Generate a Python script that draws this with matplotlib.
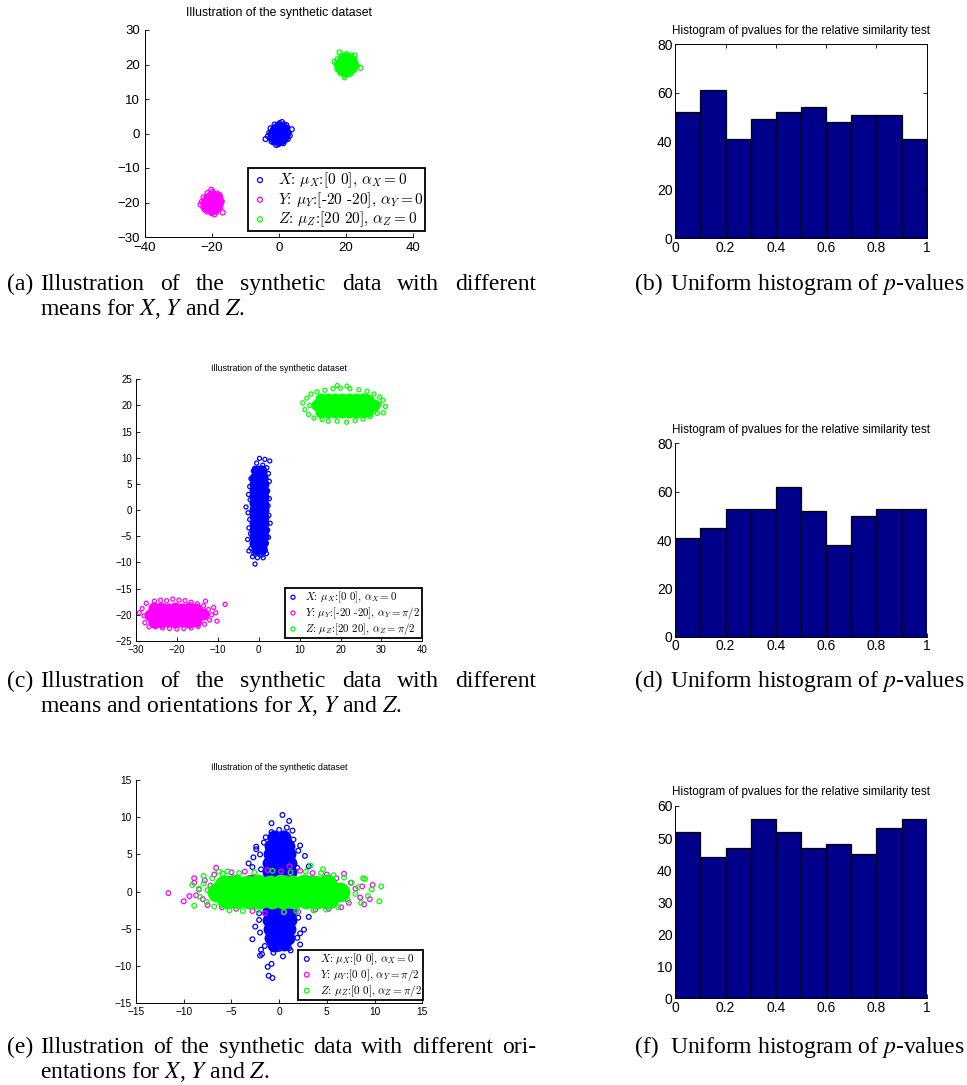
import numpy as np
import matplotlib
matplotlib.use('Agg')
import matplotlib.pyplot as plt
from matplotlib.font_manager import FontProperties
from matplotlib.ticker import FormatStrFormatter

# ---------------- data ----------------
BIN_EDGES = [0.0, 0.1, 0.2, 0.3, 0.4, 0.5, 0.6, 0.7, 0.8, 0.9, 1.0]
COUNTS_B = [52, 61, 41, 49, 52, 54, 48, 51, 51, 41]
COUNTS_D = [41, 45, 53, 53, 62, 52, 38, 50, 53, 53]
COUNTS_F = [52, 44, 47, 56, 52, 47, 48, 45, 53, 56]

# (a) equal covariance, different means
A_X_CORE = [(0.0, 0.0), (1.5, 0.1), (1.1, 1.1), (0.1, 1.5), (-1.0, 1.1), (-1.5, 0.0),
            (-1.1, -1.0), (0.0, -1.5), (1.0, -1.1)]
A_X_EDGE = [(2.9, 0.3), (2.5, 1.6), (1.5, 2.6), (0.2, 3.0), (-1.3, 2.6), (-2.5, 1.5), (-2.9, 0.2),
            (-2.6, -1.3), (-1.6, -2.6), (-0.2, -3.1), (1.3, -2.8), (2.6, -1.6), (3.2, -0.6),
            (-3.3, -0.8), (0.9, 3.3), (-4.0, -1.6), (3.8, 1.2), (-0.8, -3.3), (2.2, 2.4), (-2.2, -2.3)]
A_Y_CORE = [(-20.0, -20.0), (-18.5, -19.9), (-18.9, -18.9), (-19.9, -18.5), (-21.0, -18.9),
            (-21.5, -20.0), (-21.1, -21.0), (-20.0, -21.5), (-19.0, -21.1)]
A_Y_EDGE = [(-17.1, -19.7), (-17.5, -18.4), (-18.5, -17.4), (-19.8, -16.9), (-21.3, -17.3),
            (-22.5, -18.5), (-23.0, -19.8), (-22.6, -21.3), (-21.5, -22.6), (-20.1, -23.1),
            (-18.7, -22.7), (-17.5, -21.6), (-16.8, -22.9), (-20.2, -16.3), (-23.4, -20.6),
            (-19.2, -23.4), (-17.8, -17.8), (-22.2, -22.0)]
A_Z_CORE = [(20.0, 20.0), (21.5, 20.1), (21.1, 21.1), (20.1, 21.5), (19.0, 21.1), (18.5, 20.0),
            (18.9, 19.0), (20.0, 18.5), (21.0, 18.9)]
A_Z_EDGE = [(22.9, 20.3), (22.5, 21.6), (21.5, 22.6), (20.2, 23.0), (18.8, 22.6), (17.5, 21.5),
            (17.1, 20.1), (17.4, 18.7), (18.4, 17.5), (19.8, 17.0), (21.3, 17.3), (22.4, 18.4),
            (23.2, 19.5), (24.3, 19.0), (18.1, 23.5), (19.6, 16.3), (16.6, 20.8), (22.6, 22.6)]

# (c) different means and orientations
C_X_CORE = [(-0.5, -7.5), (0.5, -7.5), (-0.9, -6.3), (0.9, -6.2), (-1.0, -5.0), (1.0, -5.0),
            (-1.0, -3.7), (1.0, -3.8), (-1.0, -2.5), (1.0, -2.5), (-1.0, -1.2), (1.0, -1.3),
            (-1.0, 0.0), (1.0, 0.0), (-1.0, 1.3), (1.0, 1.2), (-1.0, 2.5), (1.0, 2.5),
            (-1.0, 3.8), (1.0, 3.7), (-1.0, 5.0), (1.0, 5.0), (-0.9, 6.2), (0.9, 6.3),
            (-0.5, 7.5), (0.5, 7.5)]
C_X_EDGE = [(0.2, 9.9), (1.5, 9.7), (2.7, 9.4), (-0.5, 9.0), (1.0, 8.6), (2.0, 8.1), (-1.0, 8.0),
            (-1.3, 7.5), (2.4, 7.0), (-1.9, 6.0), (1.8, 6.0), (2.6, 5.5), (-2.2, 4.5), (2.2, 3.7),
            (-2.5, 3.0), (-2.1, 2.0), (2.6, 2.2), (-3.1, 0.6), (2.3, 0.8), (-2.6, -0.5),
            (2.5, -1.0), (-2.2, -1.8), (2.8, -2.5), (-2.4, -3.4), (2.2, -3.8), (-2.0, -4.5),
            (2.4, -5.2), (-2.7, -5.6), (1.9, -6.3), (-1.9, -7.3), (-2.4, -7.8), (1.6, -7.6),
            (-1.2, -8.3), (0.7, -8.6), (1.9, -8.3), (-0.3, -9.1), (1.1, -9.1), (-0.9, -10.3),
            (-1.5, -8.9), (1.2, 8.0)]
C_Y_CORE = [(-26.5, -20.0), (-24.9, -20.1), (-23.3, -19.9), (-21.7, -20.0), (-20.1, -20.1),
            (-18.5, -19.9), (-16.9, -20.0), (-15.3, -20.1), (-13.7, -19.9),
            (-25.5, -21.3), (-23.8, -21.3), (-22.1, -21.2), (-20.4, -21.3), (-18.7, -21.2),
            (-17.0, -21.3), (-15.3, -21.2),
            (-25.6, -18.7), (-23.9, -18.7), (-22.2, -18.8), (-20.5, -18.7), (-18.8, -18.8),
            (-17.1, -18.7), (-15.4, -18.8)]
C_Y_EDGE = [(-8.2, -18.0), (-29.2, -19.6), (-28.5, -18.8), (-27.8, -21.5), (-27.5, -17.8),
            (-26.8, -22.3), (-25.5, -17.4), (-24.0, -17.2), (-22.5, -17.3), (-21.0, -17.0),
            (-19.5, -17.2), (-18.0, -17.3), (-16.5, -17.6), (-15.0, -17.9), (-13.5, -18.3),
            (-12.3, -19.0), (-11.5, -20.0), (-12.0, -21.0), (-10.5, -19.6), (-10.2, -21.2),
            (-13.2, -21.8), (-14.8, -22.2), (-16.5, -22.5), (-18.3, -22.6), (-20.0, -22.7),
            (-21.8, -22.6), (-23.5, -22.5), (-25.2, -22.3), (-28.0, -20.2), (-13.0, -17.4),
            (-11.0, -18.6)]
C_Z_CORE = [(14.2, 20.0), (15.8, 20.1), (17.4, 19.9), (19.0, 20.0), (20.6, 20.1), (22.2, 19.9),
            (23.8, 20.0), (25.4, 20.1), (27.0, 19.9), (28.2, 20.0),
            (15.2, 18.7), (16.9, 18.7), (18.6, 18.8), (20.3, 18.7), (22.0, 18.8), (23.7, 18.7),
            (25.4, 18.8), (26.8, 18.9),
            (15.2, 21.3), (16.9, 21.3), (18.6, 21.2), (20.3, 21.3), (22.0, 21.2), (23.7, 21.3),
            (25.4, 21.2), (26.8, 21.1)]
C_Z_EDGE = [(10.8, 20.5), (11.3, 19.2), (11.8, 21.4), (12.2, 18.3), (12.8, 22.2), (13.5, 17.6),
            (14.3, 22.6), (15.5, 17.3), (16.2, 22.9), (17.0, 17.0), (18.2, 23.2), (19.2, 17.0),
            (20.0, 23.3), (21.5, 16.8), (22.3, 23.2), (23.6, 17.1), (24.5, 23.0), (25.5, 17.4),
            (26.5, 22.7), (27.3, 17.9), (28.2, 22.2), (29.0, 18.5), (29.6, 21.6), (30.4, 21.0),
            (31.0, 19.8), (30.5, 18.6), (12.5, 20.0), (29.5, 20.2), (19.2, 23.8), (21.6, 23.7)]

# (e) same means, different orientations
E_X_CORE = [(-1.1, 2.6), (0.0, 2.7), (1.1, 2.6), (-1.1, 3.8), (0.0, 3.9), (1.1, 3.8),
            (-1.0, 5.0), (0.0, 5.1), (1.0, 5.0), (-0.9, 6.2), (0.1, 6.3), (0.9, 6.2),
            (-0.5, 7.3), (0.5, 7.4),
            (-1.1, 1.3), (0.0, 1.3), (1.1, 1.3), (-1.1, 0.0), (0.0, 0.0), (1.1, 0.0),
            (-1.1, -1.3), (0.0, -1.3), (1.1, -1.3),
            (-1.1, -2.6), (0.0, -2.7), (1.1, -2.6), (-1.1, -3.8), (0.0, -3.9), (1.1, -3.8),
            (-1.0, -5.0), (0.0, -5.1), (1.0, -5.0), (-0.9, -6.2), (0.1, -6.3), (0.9, -6.2),
            (-0.5, -7.2), (0.5, -7.1)]
E_X_EDGE = [(0.35, 10.3), (-0.8, 9.2), (1.05, 9.5), (-2.4, 6.05), (-2.4, 5.7), (-3.2, 3.8),
            (3.1, 3.4), (2.2, 6.2), (1.4, 8.2), (-1.4, 7.3), (2.7, 4.8), (-2.7, 4.6), (-2.8, 3.3),
            (-1.9, 3.0), (1.9, 3.2), (-2.0, 5.0), (2.0, 5.5), (-1.6, 6.6), (1.5, 7.0), (0.0, 8.3),
            (-0.8, 8.0), (0.8, 8.6), (0.5, 7.8), (-0.4, 7.6),
            (-1.2, -10.1), (-1.1, -11.3), (-0.7, -11.6), (-0.8, -9.7), (-2.0, -8.6), (-1.8, -8.4),
            (0.4, -8.7), (-2.8, -6.4), (2.2, -7.1), (2.6, -5.1), (3.1, -3.4), (2.2, -5.6),
            (-1.9, -7.8), (1.05, -7.6), (-0.2, -6.9), (-2.5, -4.7), (-2.1, -2.9), (-2.1, -3.8),
            (2.0, -3.5), (-2.0, -5.5), (1.9, -6.2), (-1.5, -7.3), (1.2, -7.9), (0.0, -7.7),
            (-0.6, -8.2)]
E_Y_CORE = [(-6.0, 0.0), (-4.0, 0.1), (-2.0, -0.1), (0.0, 0.0), (2.0, 0.1), (4.0, -0.1), (6.0, 0.0),
            (-5.0, -0.9), (-3.0, -1.0), (-1.0, -0.9), (1.0, -1.0), (3.0, -0.9), (5.0, -1.0),
            (-5.0, 0.9), (-3.0, 1.0), (-1.0, 0.9), (1.0, 1.0), (3.0, 0.9), (5.0, 1.0)]
E_Y_EDGE = [(-11.6, -0.2), (-10.0, -1.3), (-8.9, 1.8), (-8.9, 1.2), (-8.7, -0.5), (-8.4, 0.3),
            (-7.8, 1.5), (-8.0, -1.0), (-7.5, -1.8), (-6.6, 3.2), (-6.8, 2.3), (-6.0, -2.1),
            (-5.0, 2.6), (-4.5, -2.3), (-3.6, 2.7), (-2.8, -2.6), (-1.2, 2.9), (-1.5, -2.9),
            (0.2, 2.7), (1.1, 3.4), (0.5, -2.8), (2.2, 2.8), (2.0, -2.7), (3.5, 2.5), (3.8, -2.4),
            (5.0, 2.3), (5.2, -2.3), (6.0, 1.8), (6.8, 2.4), (6.5, -2.1), (7.5, 1.2), (7.3, -1.5),
            (8.0, 0.4), (8.5, -0.8), (8.7, 0.7), (8.9, -1.7), (9.5, -1.0), (9.8, 0.9),
            (-7.2, 0.8), (-9.4, -0.6)]
E_Z_CORE = [(-6.5, 0.0), (-5.3, 0.1), (-4.1, -0.1), (-2.9, 0.0), (-1.7, 0.1), (-0.5, -0.1),
            (0.7, 0.0), (1.9, 0.1), (3.1, -0.1), (4.3, 0.0), (5.5, 0.1), (6.4, 0.0),
            (-5.6, -0.95), (-4.4, -1.0), (-3.2, -0.95), (-2.0, -1.0), (-0.8, -0.95), (0.4, -1.0),
            (1.6, -0.95), (2.8, -1.0), (4.0, -0.95), (5.2, -1.0),
            (-5.8, 0.95), (-4.6, 1.0), (-3.4, 0.95), (-2.2, 1.0), (-1.0, 0.95), (0.2, 1.0),
            (1.4, 0.95), (2.6, 1.0), (3.8, 0.95), (5.0, 1.0)]
E_Z_EDGE = [(-9.1, 0.9), (-8.9, -1.9), (-8.4, 0.4), (-8.3, -0.7), (-7.9, 2.1), (-7.9, 1.1),
            (-7.6, -1.4), (-7.0, 1.8), (-6.8, -2.0), (-6.3, 2.7), (-5.9, 2.4), (-5.4, 2.7),
            (-5.2, -2.5), (-4.2, 2.5), (-3.8, -2.6), (-2.6, 2.6), (-2.2, -2.5), (-0.7, 2.8),
            (0.5, -2.7), (1.2, 2.6), (1.8, -2.6), (2.8, 2.7), (3.3, 3.5), (3.6, -2.5), (4.4, 2.5),
            (4.9, -2.4), (4.6, 3.0), (5.7, 2.2), (6.2, -2.1), (6.8, 1.9), (7.2, -1.2), (7.6, 1.2),
            (8.0, -0.3), (8.3, 0.6), (8.6, -1.5), (9.0, 1.7), (9.3, -0.6), (9.7, 0.3),
            (10.7, 0.7), (10.5, -1.3), (-7.5, 0.2), (-6.9, -0.9), (8.8, 1.8)]

LEG_A = [r'$X$: $\mu_X$:[0 0], $\alpha_X = 0$',
         r'$Y$: $\mu_Y$:[-20 -20], $\alpha_Y = 0$',
         r'$Z$: $\mu_Z$:[20 20], $\alpha_Z = 0$']
LEG_C = [r'$X$: $\mu_X$:[0 0], $\alpha_X = 0$',
         r'$Y$: $\mu_Y$:[-20 -20], $\alpha_Y = \pi/2$',
         r'$Z$: $\mu_Z$:[20 20], $\alpha_Z = \pi/2$']
LEG_E = [r'$X$: $\mu_X$:[0 0], $\alpha_X = 0$',
         r'$Y$: $\mu_Y$:[0 0], $\alpha_Y = \pi/2$',
         r'$Z$: $\mu_Z$:[0 0], $\alpha_Z = \pi/2$']

SCATTER_TITLE = 'Illustration of the synthetic dataset'
HIST_TITLE = 'Histogram of pvalues for the relative similarity test'

CAP_1_WORDS = ['Illustration', 'of', 'the', 'synthetic', 'data', 'with', 'different']
CAP_E1_WORDS = ['Illustration', 'of', 'the', 'synthetic', 'data', 'with', 'different', 'ori-']
CAP_A2 = r'means for $X$, $Y$ and $Z$.'
CAP_C2 = r'means and orientations for $X$, $Y$ and $Z$.'
CAP_E2 = r'entations for $X$, $Y$ and $Z$.'
CAP_HIST = r'Uniform histogram of $p$-values'

# ---------------- figure ----------------
plt.rcParams['font.family'] = ['Liberation Sans', 'DejaVu Sans']
W, H = 967, 1085
fig = plt.figure(figsize=(W / 100, H / 100), dpi=100)


def rect(l, t, r, b):
    return [l / W, 1 - b / H, (r - l) / W, (b - t) / H]


def style(ax, box, fs, pad=2):
    ax.tick_params(direction='in', length=3, width=0.6, labelsize=fs, pad=pad,
                   top=box, right=box, colors='black')
    for s in ['top', 'right']:
        ax.spines[s].set_visible(box)
    for s in ax.spines.values():
        s.set_linewidth(0.7)


BLUE, MAG, GRN = '#0000FF', '#FF00FF', '#00FF00'


def cloud(ax, core, edge, color, s_core, s_edge, label):
    cx, cy = zip(*core)
    ax.scatter(cx, cy, s=s_core, c=color, linewidths=0, zorder=2)
    ex, ey = zip(*edge)
    return ax.scatter(ex, ey, s=s_edge, facecolors='none', edgecolors=color,
                      linewidths=0.9, label=label, zorder=2)


def legend(ax, handles, anchor, fs):
    prop = FontProperties(family='cmr10', size=fs, math_fontfamily='cm')
    leg = ax.legend(handles=handles, loc='lower right', bbox_to_anchor=anchor,
                    borderaxespad=0, prop=prop, frameon=True, fancybox=False,
                    edgecolor='black', framealpha=1, handlelength=1.3,
                    handletextpad=0.5, borderpad=0.12, labelspacing=0.0,
                    scatterpoints=1)
    leg.get_frame().set_linewidth(1.3)
    leg.set_zorder(5)
    return leg


def title(x, y, text, fs):
    fig.text(x / W, 1 - y / H, text, ha='center', va='center', fontsize=fs)


# (a)
axA = fig.add_axes(rect(145, 30, 413, 237))
hA = [cloud(axA, A_X_CORE, A_X_EDGE, BLUE, 95, 13, LEG_A[0]),
      cloud(axA, A_Y_CORE, A_Y_EDGE, MAG, 95, 13, LEG_A[1]),
      cloud(axA, A_Z_CORE, A_Z_EDGE, GRN, 95, 13, LEG_A[2])]
axA.set_xlim(-40, 40)
axA.set_ylim(-30, 30)
axA.set_xticks([-40, -20, 0, 20, 40])
axA.set_yticks([-30, -20, -10, 0, 10, 20, 30])
style(axA, False, 9.5, pad=3.5)
legend(axA, hA, (1.045, 0.029), 11)
title(279, 13, SCATTER_TITLE, 8.8)

# (c)
axC = fig.add_axes(rect(136, 379.3, 422.3, 641))
hC = [cloud(axC, C_X_CORE, C_X_EDGE, BLUE, 75, 8.5, LEG_C[0]),
      cloud(axC, C_Y_CORE, C_Y_EDGE, MAG, 75, 8.5, LEG_C[1]),
      cloud(axC, C_Z_CORE, C_Z_EDGE, GRN, 75, 8.5, LEG_C[2])]
axC.set_xlim(-30, 40)
axC.set_ylim(-25, 25)
axC.set_xticks(np.arange(-30, 41, 10))
axC.set_yticks(np.arange(-25, 26, 5))
style(axC, False, 7, pad=3)
legend(axC, hC, (0.999, 0.011), 7.8)
title(279, 368.3, SCATTER_TITLE, 6.4)

# (e)
axE = fig.add_axes(rect(136, 780, 422.3, 1003.3))
hE = [cloud(axE, E_X_CORE, E_X_EDGE, BLUE, 100, 11.5, LEG_E[0]),
      cloud(axE, E_Y_CORE, E_Y_EDGE, MAG, 200, 11.5, LEG_E[1]),
      cloud(axE, E_Z_CORE, E_Z_EDGE, GRN, 200, 11.5, LEG_E[2])]
axE.set_xlim(-15, 15)
axE.set_ylim(-15, 15)
axE.set_xticks(np.arange(-15, 16, 5))
axE.set_yticks(np.arange(-15, 16, 5))
style(axE, False, 7.3, pad=3)
legend(axE, hE, (1.003, 0.015), 8)
title(279, 767.7, SCATTER_TITLE, 6.5)


# histograms
def hist(r, counts, ymax, yticks, box, ty):
    ax = fig.add_axes(rect(*r))
    ax.bar(BIN_EDGES[:-1], counts, width=np.diff(BIN_EDGES), align='edge',
           color='#00008B', edgecolor='black', linewidth=0.9)
    ax.set_xlim(0, 1)
    ax.set_ylim(0, ymax)
    ax.set_xticks([0, 0.2, 0.4, 0.6, 0.8, 1.0])
    ax.set_yticks(yticks)
    ax.xaxis.set_major_formatter(FormatStrFormatter('%g'))
    style(ax, box, 10)
    title(801, ty, HIST_TITLE, 8.4)
    return ax


hist((675.3, 44.3, 926.7, 238.3), COUNTS_B, 80, [0, 20, 40, 60, 80], True, 30.7)
hist((675.3, 443.3, 926.7, 636.7), COUNTS_D, 80, [0, 20, 40, 60, 80], False, 430)
hist((675.3, 806, 926.7, 998.3), COUNTS_F, 60, [0, 10, 20, 30, 40, 50, 60], False, 791.7)

# captions
capfp = FontProperties(family='Liberation Serif', size=17, math_fontfamily='stix')
renderer = fig.canvas.get_renderer()


def cap(x, y, s):
    return fig.text(x / W, 1 - y / H, s, fontproperties=capfp, ha='left', va='baseline')


def justify(words, x0, x1, y):
    texts = [cap(x0, y, w) for w in words]
    widths = [t.get_window_extent(renderer).width for t in texts]
    gap = (x1 - x0 - sum(widths)) / (len(words) - 1)
    x = x0
    for t, w in zip(texts, widths):
        t.set_x(x / W)
        x += w + gap


for lab, y1, line2 in [('(a)', 290, CAP_A2), ('(c)', 687, CAP_C2)]:
    cap(7, y1, lab)
    justify(CAP_1_WORDS, 40, 536, y1)
    cap(40, y1 + 25, line2)

cap(7, 1053, '(e)')
justify(CAP_E1_WORDS, 40, 536, 1053)
cap(40, 1078, CAP_E2)

for lab, y in [('(b)', 290), ('(d)', 687), ('(f)', 1053)]:
    cap(635, y, lab)
    cap(670, y, CAP_HIST)

fig.savefig('out.png', dpi=100)
